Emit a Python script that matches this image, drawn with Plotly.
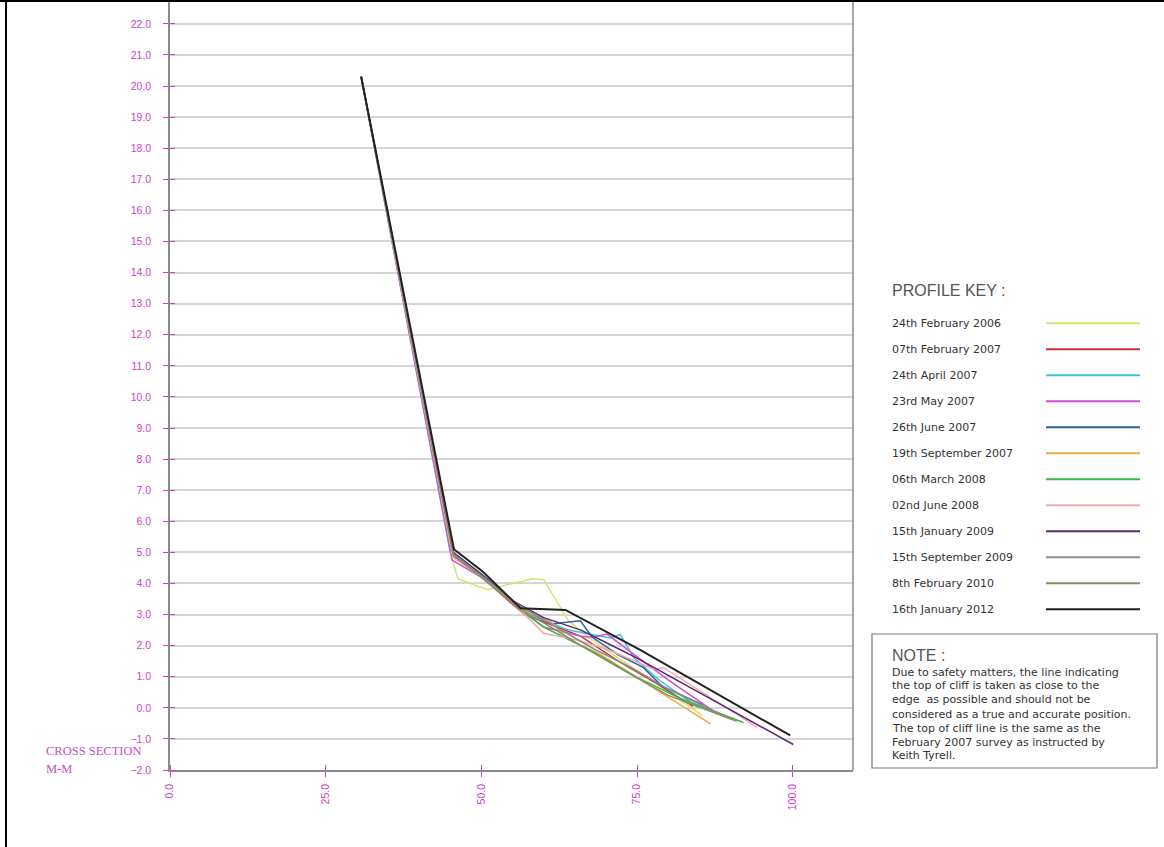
import plotly.graph_objects as go

# ---------------- data ----------------
labels = ["24th February 2006", "07th February 2007", "24th April 2007", "23rd May 2007",
          "26th June 2007", "19th September 2007", "06th March 2008", "02nd June 2008",
          "15th January 2009", "15th September 2009", "8th February 2010", "16th January 2012"]
colors = ["#d6e46e", "#c8323a", "#3cc4d4", "#d24ed6", "#2e5ea8", "#f2a848",
          "#3cb848", "#f0a8ae", "#5a2a78", "#8c8c8c", "#8c8c5e", "#222222"]

x_feb2006 = [30.7, 45.3, 46.2, 51.0, 55.0, 58.3, 60.0, 62.4, 64.0, 67.0, 72.0, 78.0, 85.5]
y_feb2006 = [20.3, 4.80, 4.15, 3.80, 4.00, 4.15, 4.12, 3.35, 2.80, 2.30, 1.60, 0.80, -0.25]

x_feb2007 = [30.7, 45.4, 50.0, 54.0, 57.0, 61.0, 66.0, 72.0, 78.0, 84.0]
y_feb2007 = [20.3, 4.90, 4.25, 3.50, 3.00, 2.70, 2.30, 1.50, 0.80, 0.05]

x_apr2007 = [30.7, 45.0, 50.0, 55.0, 59.0, 64.0, 70.7, 72.3, 74.5, 78.7, 84.9]
y_apr2007 = [20.3, 5.00, 4.20, 3.40, 2.90, 2.50, 2.25, 2.36, 1.61, 0.87, 0.01]

x_may2007 = [30.7, 45.3, 50.0, 55.0, 60.0, 66.0, 68.0, 70.2, 72.3, 75.5, 80.0, 88.0]
y_may2007 = [20.3, 4.75, 4.20, 3.35, 2.60, 2.30, 2.27, 2.37, 2.05, 1.57, 0.90, -0.20]

x_jun2007 = [30.7, 45.5, 50.0, 55.0, 61.1, 65.9, 67.8, 72.0, 76.0, 79.0, 85.5]
y_jun2007 = [20.3, 4.95, 4.30, 3.40, 2.70, 2.80, 2.27, 1.70, 1.30, 0.70, 0.10]

x_sep2007 = [30.7, 45.5, 50.0, 56.0, 61.0, 64.0, 69.1, 78.0, 86.8]
y_sep2007 = [20.3, 4.85, 4.25, 3.20, 2.80, 2.20, 1.72, 0.60, -0.52]

x_mar2008 = [30.7, 45.5, 50.0, 56.0, 60.0, 64.0, 68.0, 75.0, 82.0, 92.1]
y_mar2008 = [20.3, 4.90, 4.20, 3.20, 2.60, 2.20, 1.80, 0.98, 0.30, -0.47]

x_jun2008 = [30.7, 45.4, 50.0, 55.0, 60.0, 65.0, 70.0, 77.7, 79.3, 94.3]
y_jun2008 = [20.3, 4.85, 4.20, 3.40, 2.40, 2.20, 1.90, 1.24, 1.29, -0.63]

x_jan2009 = [30.7, 45.5, 50.0, 55.0, 60.0, 66.0, 70.0, 75.0, 100.1]
y_jan2009 = [20.3, 5.00, 4.30, 3.45, 2.90, 2.50, 2.10, 1.60, -1.18]

x_sep2009 = [30.7, 45.5, 50.0, 56.0, 62.0, 68.0, 74.0, 80.0, 90.0]
y_sep2009 = [20.3, 4.95, 4.25, 3.30, 2.60, 1.90, 1.30, 0.60, -0.35]

x_feb2010 = [30.7, 45.5, 50.0, 56.0, 62.0, 66.0, 72.0, 80.0, 91.0]
y_feb2010 = [20.3, 4.90, 4.20, 3.20, 2.50, 2.00, 1.30, 0.40, -0.43]

x_jan2012 = [30.7, 45.6, 50.3, 56.3, 63.5, 69.1, 75.5, 99.6]
y_jan2012 = [20.3, 5.10, 4.37, 3.20, 3.15, 2.55, 1.86, -0.89]

y_ticks = [v for v in range(-2, 23)]
x_ticks = [0, 25, 50, 75, 100]

note_title = "NOTE :"
note_lines = ["Due to safety matters, the line indicating",
              "the top of cliff is taken as close to the",
              "edge  as possible and should not be",
              "considered as a true and accurate position.",
              "The top of cliff line is the same as the",
              "February 2007 survey as instructed by",
              "Keith Tyrell."]

# ---------------- figure ----------------
W, H = 1164, 847
L, R, T, B = 170, 853, 0, 770   # plot area in pixels


def px(xp):
    return (xp - L) / (R - L)


def py(yp):
    return (B - yp) / (B - T)


series = [(x_feb2006, y_feb2006), (x_feb2007, y_feb2007), (x_apr2007, y_apr2007),
          (x_may2007, y_may2007), (x_jun2007, y_jun2007), (x_sep2007, y_sep2007),
          (x_mar2008, y_mar2008), (x_jun2008, y_jun2008), (x_jan2009, y_jan2009),
          (x_sep2009, y_sep2009), (x_feb2010, y_feb2010), (x_jan2012, y_jan2012)]

fig = go.Figure()
for (xs, ys), lab, col in zip(series, labels, colors):
    fig.add_trace(go.Scatter(x=xs, y=ys, mode="lines", name=lab,
                             line=dict(color=col, width=2 if col == "#222222" else 1.5),
                             showlegend=False))

mag = "#cc3fcc"
fig.update_layout(
    width=W, height=H,
    margin=dict(l=L, r=W - R, t=T, b=H - B, pad=0),
    paper_bgcolor="white", plot_bgcolor="white",
    font=dict(family="Liberation Sans", color=mag),
    xaxis=dict(range=[0, (R - L) / 6.227], tickvals=x_ticks, tickformat=".1f",
               tickangle=-90, showgrid=False, zeroline=False,
               showline=True, linecolor="#8a8a8a", linewidth=1.5,
               ticks="outside", ticklen=5, tickcolor=mag, ticklabelstandoff=3,
               tickfont=dict(size=10.5, color=mag, family="Liberation Sans"),
               minor=dict(tickvals=x_ticks, ticks="inside", ticklen=5, tickcolor=mag, showgrid=False)),
    yaxis=dict(range=[-2, -2 + (B - T) / 31.09], tickvals=y_ticks, tickformat=".1f",
               showgrid=True, gridcolor="#d6d6d6", gridwidth=2, zeroline=False,
               showline=True, linecolor="#8a8a8a", linewidth=1.5,
               ticks="outside", ticklen=5, tickcolor=mag, ticklabelstandoff=10,
               tickfont=dict(size=10.5, color=mag, family="Liberation Sans"),
               minor=dict(tickvals=y_ticks, ticks="inside", ticklen=5, tickcolor=mag, showgrid=False)),
)

shapes = []
# right border of drawing area
shapes.append(dict(type="line", xref="paper", yref="paper", x0=1, x1=1, y0=0, y1=1,
                   line=dict(color="#8a8a8a", width=1.5)))
# black frame top & left
shapes.append(dict(type="line", xref="paper", yref="paper", x0=px(0), x1=px(W), y0=py(1), y1=py(1),
                   line=dict(color="black", width=2)))
shapes.append(dict(type="line", xref="paper", yref="paper", x0=px(6), x1=px(6), y0=py(0), y1=py(H),
                   line=dict(color="black", width=2)))
# legend key lines
for i, col in enumerate(colors):
    yy = 323.3 + 26.0 * i
    shapes.append(dict(type="line", xref="paper", yref="paper", x0=px(1046), x1=px(1140),
                       y0=py(yy), y1=py(yy), line=dict(color=col, width=2)))
# note box
shapes.append(dict(type="rect", xref="paper", yref="paper", x0=px(872), x1=px(1157),
                   y0=py(768), y1=py(634), line=dict(color="#777777", width=1.2)))
fig.update_layout(shapes=shapes)

ann = []
ann.append(dict(text="PROFILE KEY :", x=px(890), y=py(291), xref="paper", yref="paper",
                xanchor="left", yanchor="middle", showarrow=False,
                font=dict(family="Liberation Sans", size=16, color="#555555")))
for i, lab in enumerate(labels):
    yy = 323.3 + 26.0 * i
    ann.append(dict(text=lab, x=px(890), y=py(yy), xref="paper", yref="paper",
                    xanchor="left", yanchor="middle", showarrow=False,
                    font=dict(family="DejaVu Sans", size=11, color="#333333")))
ann.append(dict(text=note_title, x=px(890), y=py(655), xref="paper", yref="paper",
                xanchor="left", yanchor="middle", showarrow=False,
                font=dict(family="Liberation Sans", size=16, color="#555555")))
note_y = [672, 685, 699, 714, 728, 742, 755]
for t, yy in zip(note_lines, note_y):
    ann.append(dict(text=t, x=px(890), y=py(yy), xref="paper", yref="paper",
                    xanchor="left", yanchor="middle", showarrow=False,
                    font=dict(family="DejaVu Sans", size=11, color="#333333")))
ann.append(dict(text="CROSS SECTION", x=px(44), y=py(751), xref="paper", yref="paper",
                xanchor="left", yanchor="middle", showarrow=False,
                font=dict(family="Liberation Serif", size=12.5, color="#c450c4")))
ann.append(dict(text="M-M", x=px(44), y=py(769), xref="paper", yref="paper",
                xanchor="left", yanchor="middle", showarrow=False,
                font=dict(family="Liberation Serif", size=12.5, color="#c450c4")))
fig.update_layout(annotations=ann)

fig.write_html("out.html", config={"displayModeBar": False},
               post_script="document.body.style.margin='0';document.body.style.overflow='hidden';")
